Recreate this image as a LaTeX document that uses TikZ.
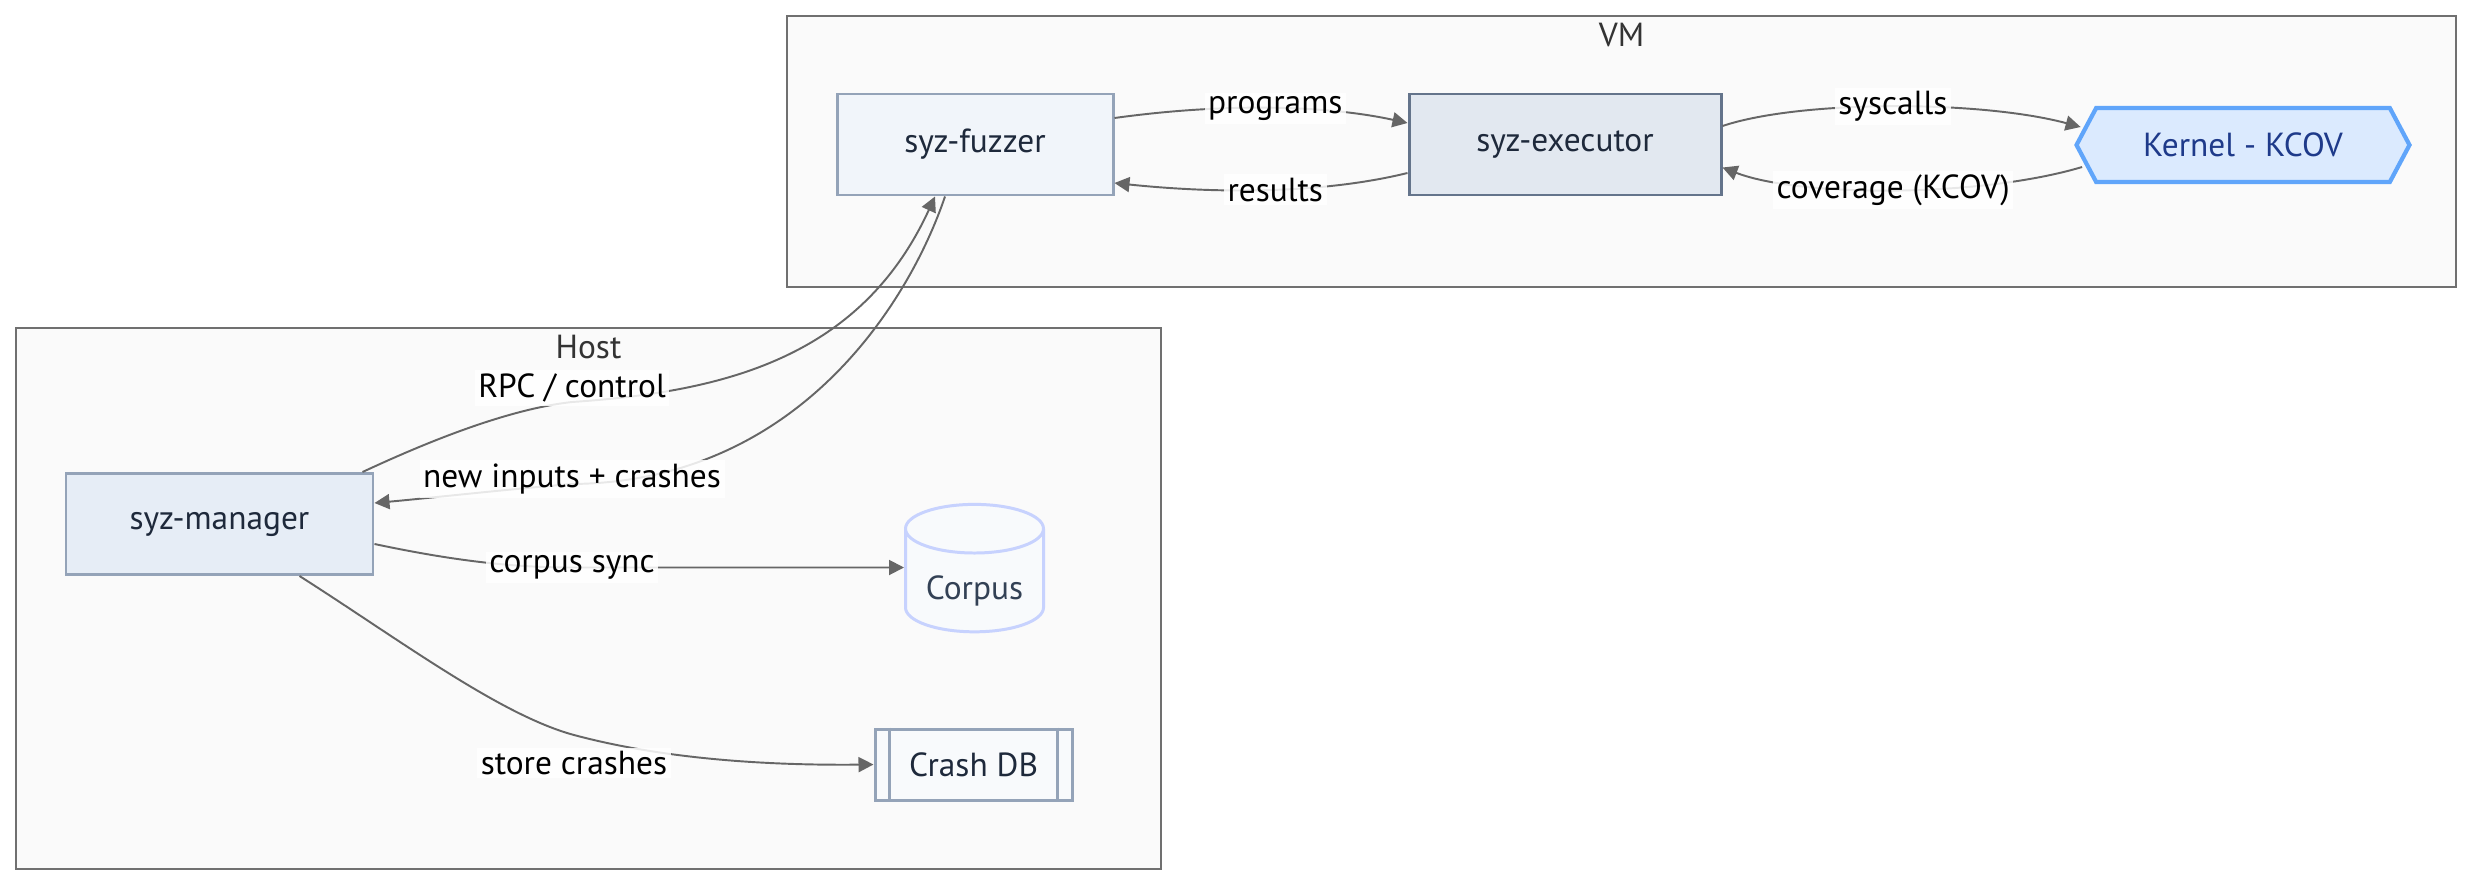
\documentclass[tikz,border=0pt]{standalone}
\usepackage{fontspec}
\setmainfont{PT Sans}
\usetikzlibrary{arrows.meta,shapes.symbols,shapes.geometric}
\definecolor{clusterfill}{HTML}{FAFAFA}
\definecolor{clusterline}{HTML}{707070}
\definecolor{edgegray}{HTML}{666666}
\definecolor{nodetext}{HTML}{1E293B}
\definecolor{fuzzerfill}{HTML}{F1F5FA}
\definecolor{slateline}{HTML}{94A3B8}
\definecolor{execfill}{HTML}{E2E8F0}
\definecolor{execline}{HTML}{64748B}
\definecolor{kernelfill}{HTML}{DBEAFE}
\definecolor{kernelline}{HTML}{60A5FA}
\definecolor{kerneltext}{HTML}{1E3A8A}
\definecolor{managerfill}{HTML}{E6EDF6}
\definecolor{storefill}{HTML}{F8FAFC}
\definecolor{corpusline}{HTML}{C7D2FE}
\definecolor{corpustext}{HTML}{334155}

\begin{document}
\begin{tikzpicture}[
  >={Triangle[length=3mm,width=3mm]},
  every node/.style={font=\fontsize{19}{23}\selectfont},
  cluster/.style={draw=clusterline, fill=clusterfill, line width=1.1pt},
  clustertitle/.style={text=black!80},
  box/.style={rectangle, text=nodetext, inner sep=0pt, line width=1.7pt,
    minimum height=2.02cm},
  lbl/.style={fill=white, fill opacity=0.85, text opacity=1, inner sep=2pt,
    text=black},
  flow/.style={->, edgegray, line width=1.1pt}
]
\useasboundingbox[fill=white] (0,0) rectangle (49.46,-17.72);

% clusters
\draw[cluster] (15.74,-0.32) rectangle (49.12,-5.74);
\node[clustertitle] (vmtitle) at (32.43,-0.7) {VM};
\draw[cluster] (0.32,-6.56) rectangle (23.22,-17.38);
\node[clustertitle] (hosttitle) at (11.77,-6.94) {Host};

% VM side
\node[box,fill=fuzzerfill,draw=slateline,minimum width=5.52cm] (fuzzer)
  at (19.5,-2.89) {syz-fuzzer};
\node[box,fill=execfill,draw=execline,minimum width=6.24cm] (executor)
  at (31.3,-2.89) {syz-executor};
\node[signal, signal to=west and east, signal pointer angle=124,
  fill=kernelfill, draw=kernelline, line width=2.4pt, text=kerneltext,
  minimum width=6.66cm, minimum height=1.48cm, inner sep=0pt] (kernel)
  at (44.86,-2.9) {Kernel - KCOV};

% Host side
\node[box,fill=managerfill,draw=slateline,minimum width=6.14cm] (manager)
  at (4.39,-10.48) {syz-manager};
\node[cylinder, shape border rotate=90, aspect=0.5, draw=corpusline,
  fill=storefill, line width=1.7pt, text=corpustext, inner sep=0pt,
  minimum width=2.76cm, text height=0.9cm, text depth=0.16cm] (corpus)
  at (19.49,-11.62) {Corpus};
\node[box,fill=storefill,draw=slateline,minimum width=3.94cm,
  minimum height=1.42cm] (crashdb) at (19.47,-15.29) {Crash DB};
\draw[slateline,line width=1.7pt] ([xshift=3.2mm]crashdb.north west)
  -- ([xshift=3.2mm]crashdb.south west);
\draw[slateline,line width=1.7pt] ([xshift=-3.2mm]crashdb.north east)
  -- ([xshift=-3.2mm]crashdb.south east);

% edges inside the VM
\draw[flow] ([yshift=5.3mm]fuzzer.east) .. controls (24.6,-2.04) and (26.6,-2.12)
  .. ([yshift=4.3mm]executor.west) node[lbl,pos=0.5] {programs};
\draw[flow] ([yshift=-5.7mm]executor.west) .. controls (26.6,-3.84) and (24.6,-3.9)
  .. ([yshift=-7.7mm]fuzzer.east) node[lbl,pos=0.5] {results};
\draw[flow] ([yshift=3.7mm]executor.east) .. controls (36.0,-2.0) and (39.6,-2.0)
  .. ([xshift=1.3mm,yshift=3.6mm]kernel.west) node[lbl,pos=0.5] {syscalls};
\draw[flow] ([xshift=1.6mm,yshift=-4.4mm]kernel.west) .. controls (39.6,-3.95) and (36.0,-3.95)
  .. ([yshift=-4.6mm]executor.east) node[lbl,pos=0.5] {coverage (KCOV)};

% edges between host and VM
\coordinate (rpcmid) at (11.44,-8.04);
\coordinate (newmid) at (11.44,-9.68);
\coordinate (corpusmid) at (11.44,-11.35);
\coordinate (storemid) at (11.48,-14.7);
\draw[flow] ([xshift=-2.4mm]manager.north east) .. controls (8.2,-9.0) and (10.0,-8.2)
  .. (rpcmid) node[lbl,yshift=2.8mm] {RPC / control}
  .. controls (14.4,-7.84) and (17.2,-7.2) .. ([xshift=-8mm]fuzzer.south);
\draw[flow] ([xshift=-6mm]fuzzer.south) .. controls (18.2,-6.0) and (16.0,-9.64)
  .. (newmid) node[lbl,yshift=1mm] {new inputs + crashes}
  .. controls (10.0,-9.8) and (8.6,-9.96) .. ([yshift=4.2mm]manager.east);
\draw[flow] ([yshift=-4mm]manager.east) .. controls (9.0,-11.2) and (10.2,-11.35)
  .. (corpusmid) node[lbl] {corpus sync} -- (corpusmid -| corpus.west);
\draw[flow] ([xshift=1.6cm]manager.south) .. controls (8.0,-12.8) and (10.0,-14.3)
  .. (storemid) node[lbl,yshift=-5.6mm] {store crashes}
  .. controls (12.6,-15.0) and (14.4,-15.32) .. (crashdb.west);
\end{tikzpicture}
\end{document}
